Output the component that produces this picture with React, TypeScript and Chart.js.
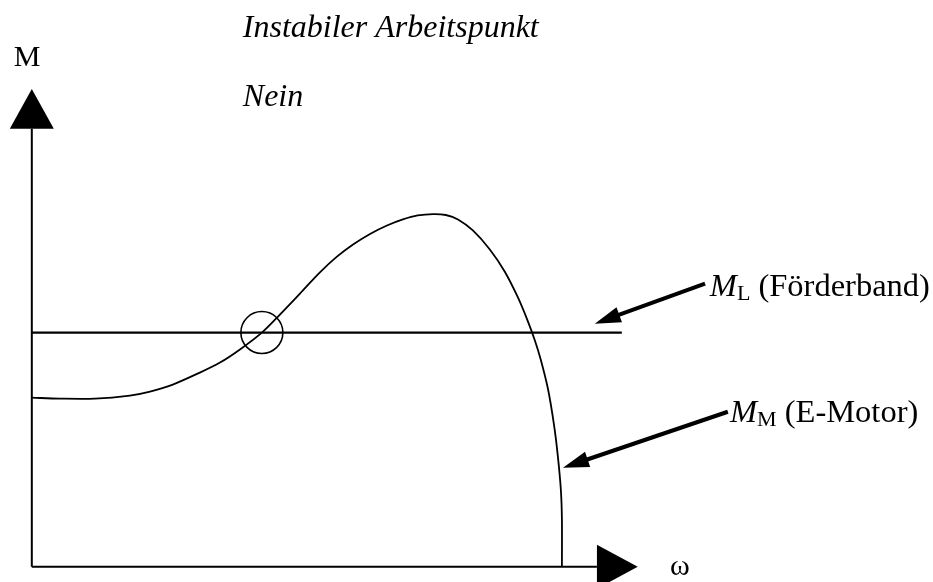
import React, { useEffect, useRef } from "react";
import { Chart, registerables } from "chart.js";

Chart.register(...registerables);

// Motor torque curve M_M(ω) (normalised: ω = 1 no-load speed, M = 1 load torque)
const omegaMotor = [0, 0.053, 0.119, 0.185, 0.223, 0.266, 0.317, 0.355, 0.392, 0.434, 0.468, 0.511, 0.543, 0.575, 0.606, 0.638, 0.67, 0.7, 0.728, 0.757, 0.781, 0.804, 0.832, 0.864, 0.892, 0.917, 0.936, 0.949, 0.96, 0.974, 0.985, 0.992, 0.998, 1.0, 1.0];
const torqueMotor = [0.722, 0.718, 0.718, 0.731, 0.748, 0.778, 0.829, 0.872, 0.927, 1.0, 1.077, 1.179, 1.256, 1.323, 1.376, 1.421, 1.457, 1.483, 1.5, 1.506, 1.502, 1.483, 1.436, 1.355, 1.261, 1.15, 1.047, 0.966, 0.885, 0.756, 0.607, 0.479, 0.329, 0.201, 0];

// Load torque M_L (conveyor belt), constant
const omegaLoad = [0, 1.113];
const torqueLoad = [1, 1];

// Unstable operating point
const omegaPoint = [0.434];
const torquePoint = [1.0];

// Axes (ω and M)
const axisYTop = 1.87;
const axisYTip = 2.04;
const axisXEnd = 1.066;
const axisXTip = 1.143;

// Pointer arrows to the curves [ω, M]
const pointerFrom = [[1.27, 1.209], [1.313, 0.662]];
const pointerTo = [[1.062, 1.038], [1.002, 0.423]];

// Texts
const titleText = "Instabiler Arbeitspunkt";
const answerText = "Nein";
const axisLabelY = "M";
const axisLabelX = "ω";
const loadLabel = ["M", "L", " (Förderband)"];
const motorLabel = ["M", "M", " (E-Motor)"];

const SERIF = "'Liberation Serif', 'Times New Roman', serif";

const drawPlugin = {
  id: "diagramExtras",
  afterDatasetsDraw(chart: any) {
    const { ctx } = chart;
    const xs = chart.scales.x;
    const ys = chart.scales.y;
    const px = (v: number) => xs.getPixelForValue(v);
    const py = (v: number) => ys.getPixelForValue(v);
    ctx.save();
    ctx.fillStyle = "#000";
    ctx.strokeStyle = "#000";

    const tri = (a: number[], b: number[], c: number[]) => {
      ctx.beginPath();
      ctx.moveTo(a[0], a[1]);
      ctx.lineTo(b[0], b[1]);
      ctx.lineTo(c[0], c[1]);
      ctx.closePath();
      ctx.fill();
    };

    // Y axis arrowhead
    const x0 = px(0);
    const yb = py(axisYTop);
    const yt = py(axisYTip);
    tri([x0 - 22, yb], [x0 + 22, yb], [x0, yt]);
    // X axis arrowhead
    const y0 = py(0);
    const xb = px(axisXEnd);
    const xt = px(axisXTip);
    tri([xb, y0 - 22], [xb, y0 + 22], [xt, y0]);

    // pointer arrows
    for (let i = 0; i < pointerFrom.length; i++) {
      const sx = px(pointerFrom[i][0]);
      const sy = py(pointerFrom[i][1]);
      const ex = px(pointerTo[i][0]);
      const ey = py(pointerTo[i][1]);
      const ang = Math.atan2(ey - sy, ex - sx);
      const headLen = 26;
      const headHalf = 8;
      const bx = ex - headLen * Math.cos(ang);
      const by = ey - headLen * Math.sin(ang);
      ctx.lineWidth = 4;
      ctx.beginPath();
      ctx.moveTo(sx, sy);
      ctx.lineTo(bx + 2 * Math.cos(ang), by + 2 * Math.sin(ang));
      ctx.stroke();
      const nx = -Math.sin(ang);
      const ny = Math.cos(ang);
      tri([bx + nx * headHalf, by + ny * headHalf], [bx - nx * headHalf, by - ny * headHalf], [ex, ey]);
    }

    ctx.textBaseline = "alphabetic";
    ctx.textAlign = "left";

    // title + answer
    ctx.font = `italic 32px ${SERIF}`;
    ctx.fillText(titleText, px(0.398), py(2.262));
    ctx.fillText(answerText, px(0.398), py(1.966));

    // axis labels
    ctx.font = `30px ${SERIF}`;
    ctx.fillText(axisLabelY, px(-0.034), py(2.137));
    ctx.fillText(axisLabelX, px(1.204), py(-0.034));

    const drawLabel = (parts: string[], lx: number, ly: number) => {
      let cx = lx;
      ctx.font = `italic 32.5px ${SERIF}`;
      ctx.fillText(parts[0], cx, ly);
      cx += ctx.measureText(parts[0]).width;
      ctx.font = `22px ${SERIF}`;
      ctx.fillText(parts[1], cx, ly + 4);
      cx += ctx.measureText(parts[1]).width;
      ctx.font = `32.5px ${SERIF}`;
      ctx.fillText(parts[2], cx, ly);
    };
    drawLabel(loadLabel, px(1.279), py(1.158));
    drawLabel(motorLabel, px(1.317), py(0.62));

    ctx.restore();
  },
};

export default function App() {
  const ref = useRef<HTMLCanvasElement | null>(null);

  useEffect(() => {
    if (!ref.current) return;
    const motor = omegaMotor.map((w, i) => ({ x: w, y: torqueMotor[i] }));
    const load = omegaLoad.map((w, i) => ({ x: w, y: torqueLoad[i] }));
    const point = omegaPoint.map((w, i) => ({ x: w, y: torquePoint[i] }));
    const chart = new Chart(ref.current, {
      type: "scatter",
      data: {
        datasets: [
          {
            label: "y-axis",
            data: [{ x: 0, y: 0 }, { x: 0, y: axisYTop }],
            showLine: true,
            borderColor: "#000",
            borderWidth: 2,
            pointRadius: 0,
          },
          {
            label: "x-axis",
            data: [{ x: 0, y: 0 }, { x: axisXEnd, y: 0 }],
            showLine: true,
            borderColor: "#000",
            borderWidth: 2,
            pointRadius: 0,
          },
          {
            label: "M_L",
            data: load,
            showLine: true,
            borderColor: "#000",
            borderWidth: 2.2,
            pointRadius: 0,
          },
          {
            label: "M_M",
            data: motor,
            showLine: true,
            borderColor: "#000",
            borderWidth: 1.8,
            pointRadius: 0,
            tension: 0.3,
          },
          {
            label: "Arbeitspunkt",
            data: point,
            showLine: false,
            pointRadius: 21,
            pointBorderWidth: 1.6,
            pointBorderColor: "#000",
            pointBackgroundColor: "rgba(0,0,0,0)",
            clip: false,
          },
        ],
      },
      options: {
        animation: false,
        responsive: false,
        events: [],
        layout: { padding: 0, autoPadding: false },
        plugins: { legend: { display: false }, tooltip: { enabled: false } },
        scales: {
          x: { type: "linear", min: -0.06, max: 1.7, display: false },
          y: { type: "linear", min: -0.065, max: 2.42, display: false },
        },
      },
      plugins: [drawPlugin],
    });
    return () => chart.destroy();
  }, []);

  return (
    <div style={{ position: "absolute", left: 0, top: 0, width: 933, height: 582, background: "#fff" }}>
      <canvas ref={ref} width={933} height={582} style={{ display: "block" }} />
    </div>
  );
}
